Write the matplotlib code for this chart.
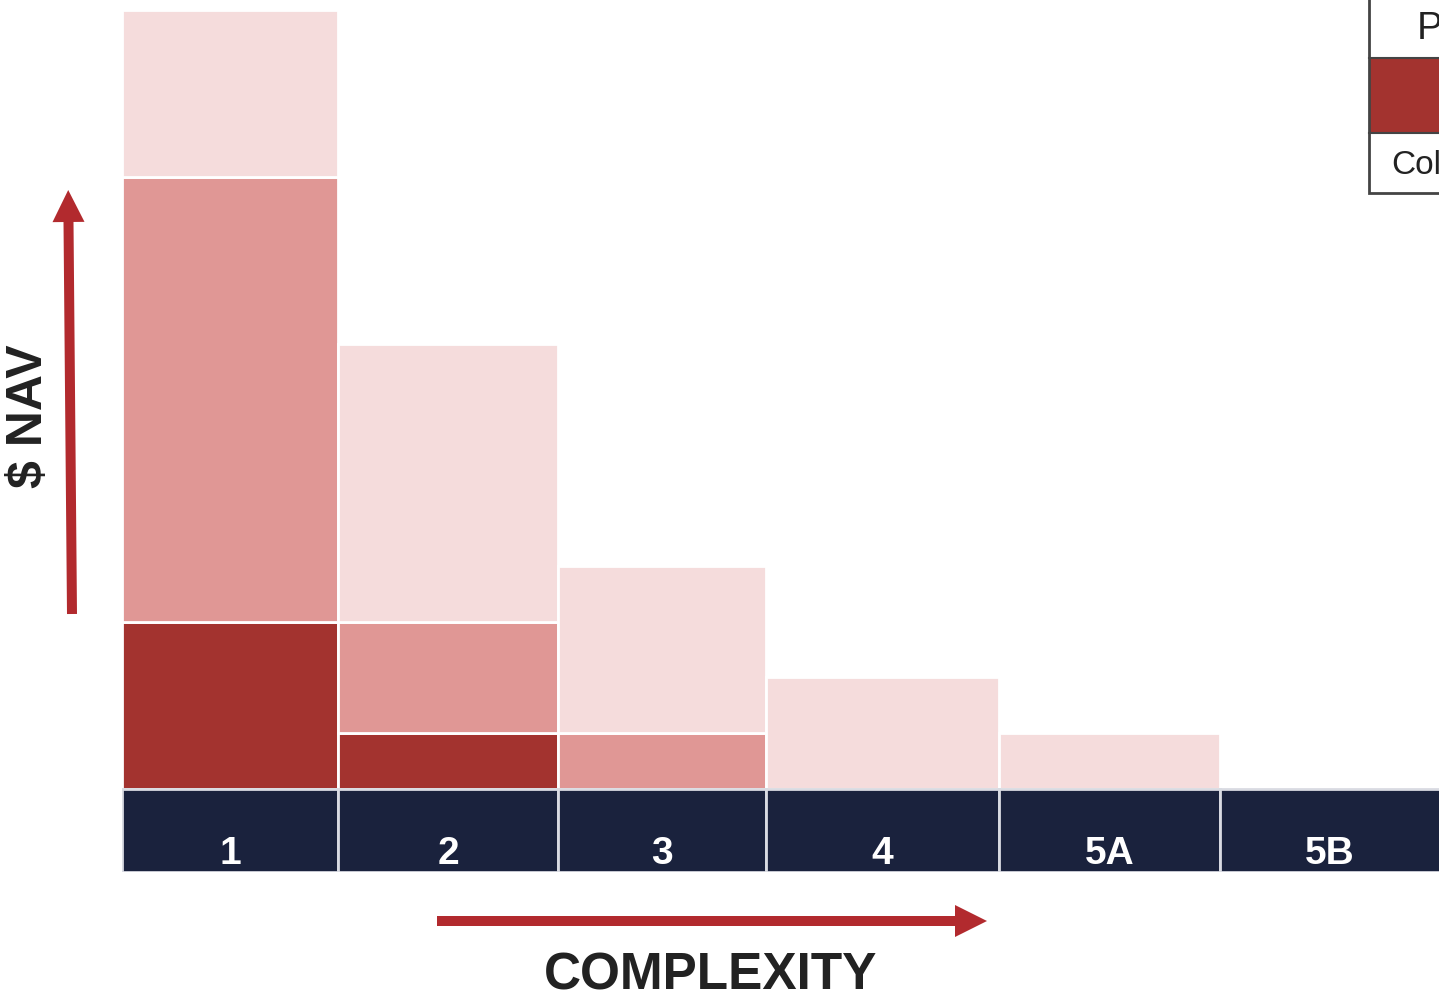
import numpy as np
import matplotlib.pyplot as plt
from matplotlib.patches import Rectangle, FancyArrow

plt.rcParams['font.family'] = ['Liberation Sans', 'DejaVu Sans']

# complexity buckets and stacked NAV segments
categories = ['1', '2', '3', '4', '5A', '5B']
widths = [2.16, 2.20, 2.08, 2.33, 2.21, 2.20]
dark = [3, 1, 0, 0, 0, 0]
medium = [8, 2, 1, 0, 0, 0]
light = [3, 5, 3, 2, 1, 0]

c_dark = '#a3332f'
c_medium = '#e09795'
c_light = '#f5dcdc'
c_navy = '#1a223d'
c_arrow = '#b22a2e'

W, H = 1439, 998
fig = plt.figure(figsize=(W / 100, H / 100), dpi=100)

# main stacked bars, axes placed so the last column runs off the right edge
ax = fig.add_axes([122 / W, (H - 872) / H, 1317 / W, 862 / H])
lefts = np.concatenate([[0], np.cumsum(widths)[:-1]])
dark = np.array(dark, float)
medium = np.array(medium, float)
light = np.array(light, float)

bar_kw = dict(align='edge', edgecolor='white', linewidth=2)
bottom = np.zeros(len(categories))
for vals, col in [(dark, c_dark), (medium, c_medium), (light, c_light)]:
    keep = vals > 0
    ax.bar(lefts[keep], vals[keep], np.array(widths)[keep],
           bottom=bottom[keep], color=col, **bar_kw)
    bottom += vals

# navy category band under the baseline
band = 1.5
ax.bar(lefts, [-band] * len(categories), widths, color=c_navy,
       align='edge', edgecolor='#d9dbe2', linewidth=2)
for x0, w, lab in zip(lefts, widths, categories):
    ax.text(x0 + w / 2, -1.18, lab, color='white', fontsize=28,
            fontweight='bold', ha='center', va='center')

ax.set_xlim(0, 13.17)
ax.set_ylim(-band, 14)
ax.axis('off')

# overlay in pixel units for the arrows, axis titles and legend
ov = fig.add_axes([0, 0, 1, 1], zorder=5)
ov.set_xlim(0, W)
ov.set_ylim(H, 0)
ov.axis('off')
ov.patch.set_alpha(0)

ov.add_patch(FancyArrow(72, 614, -3.5, -392, width=10, head_width=32,
                        head_length=32, length_includes_head=False,
                        color=c_arrow, lw=0))
ov.add_patch(FancyArrow(437, 921, 518, 0, width=10, head_width=32,
                        head_length=32, length_includes_head=False,
                        color=c_arrow, lw=0))
ov.text(29, 416, '$ NAV', rotation=90, fontsize=36, fontweight='bold',
        color='#222222', ha='center', va='center')
ov.text(711, 976, 'COMPLEXITY', fontsize=37, fontweight='bold',
        color='#222222', ha='center', va='center')

# legend table, cut off at the right edge
ov.add_patch(Rectangle((1369, 58), 120, 75, facecolor=c_dark,
                       edgecolor='none'))
ov.add_patch(Rectangle((1369, -5), 120, 198, facecolor='none',
                       edgecolor='#444444', linewidth=2))
ov.plot([1369, 1489], [58, 58], color='#444444', lw=1.5)
ov.plot([1369, 1489], [133, 133], color='#444444', lw=1.5)
ov.text(1417, 29, 'Primary', fontsize=28, color='#222222',
        ha='left', va='center')
ov.text(1391, 165, 'Collateral', fontsize=24, color='#222222',
        ha='left', va='center')

fig.savefig('out.png', dpi=100)
